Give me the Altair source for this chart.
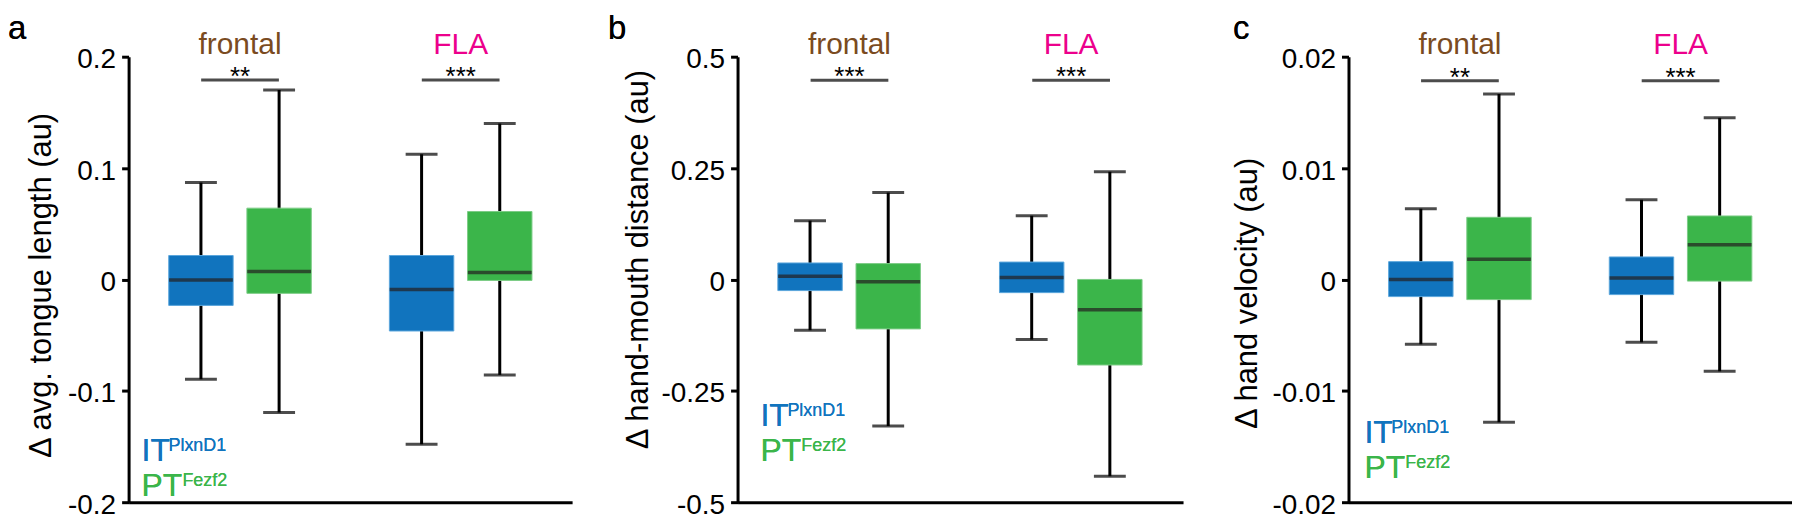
import altair as alt
import pandas as pd

GROUPS = ["frontal", "frontal", "FLA", "FLA"]
TYPES = ["IT", "PT", "IT", "PT"]
GROUP_ORDER = ["frontal", "FLA"]
TYPE_ORDER = ["IT", "PT"]

# Panel a: tongue length
A_HI = [0.087, 0.170, 0.1125, 0.140]
A_Q3 = [0.0215, 0.064, 0.0215, 0.061]
A_MED = [-0.0006, 0.0072, -0.009, 0.0063]
A_Q1 = [-0.0233, -0.0125, -0.0463, -0.0009]
A_LO = [-0.0896, -0.1194, -0.148, -0.0857]
A_SIG = [0.179, 0.179]
A_STARS = ["**", "***"]
A_TICKS = [0.2, 0.1, 0, -0.1, -0.2]

# Panel b: hand-mouth distance
B_HI = [0.132, 0.195, 0.143, 0.2415]
B_Q3 = [0.037, 0.0356, 0.039, 0.0]
B_MED = [0.0074, -0.005, 0.0044, -0.068]
B_Q1 = [-0.025, -0.111, -0.0296, -0.192]
B_LO = [-0.114, -0.329, -0.135, -0.442]
B_SIG = [0.447, 0.447]
B_STARS = ["***", "***"]
B_TICKS = [0.5, 0.25, 0, -0.25, -0.5]

# Panel c: hand velocity
C_HI = [0.00635, 0.01665, 0.00715, 0.01451]
C_Q3 = [0.0016, 0.00558, 0.00202, 0.0057]
C_MED = [0.0, 0.00181, 0.00012, 0.00312]
C_Q1 = [-0.00154, -0.00181, -0.00136, -0.00015]
C_LO = [-0.00582, -0.01282, -0.00564, -0.00825]
C_SIG = [0.01783, 0.01783]
C_STARS = ["**", "***"]
C_TICKS = [0.02, 0.01, 0, -0.01, -0.02]

BLUE = "#1174be"
GREEN = "#3bb54a"
BLUE_EDGE = "#5aa6dc"
GREEN_EDGE = "#7ccc86"
BROWN = "#7a4b1f"
MAGENTA = "#ec008c"
FONT = "Liberation Sans"
H = 447


def panel(hi, q3, med, q1, lo, sig, stars, ticks, title, label, lab_x,
          title_x, title_y, leg_x, leg_y, width):
    df = pd.DataFrame({"group": GROUPS, "type": TYPES, "hi": hi, "q3": q3,
                       "med": med, "q1": q1, "lo": lo})
    sdf = pd.DataFrame({"group": GROUP_ORDER, "sig": sig, "stars": stars})
    yscale = alt.Scale(domain=[ticks[-1], ticks[0]], nice=False, zero=False)
    yaxis = alt.Axis(values=ticks, labelExpr="'' + datum.value", title=title,
                     titleX=title_x, titleY=title_y, titleAngle=270,
                     titleBaseline="alphabetic", grid=False, labelOffset=3)

    def Y(f):
        return alt.Y(f + ":Q", scale=yscale, axis=yaxis)

    X = alt.X("group:N", sort=GROUP_ORDER,
              scale=alt.Scale(paddingInner=0.3, paddingOuter=0.155),
              axis=alt.Axis(labels=False, ticks=False, grid=False), title=None)
    XO = alt.XOffset("type:N", sort=TYPE_ORDER,
                     scale=alt.Scale(paddingInner=0.176, paddingOuter=0.076))

    base = alt.Chart(df)
    whisk = base.mark_rule(color="black", strokeWidth=3).encode(
        x=X, xOffset=XO, y=Y("lo"), y2="hi")
    box = base.mark_bar(strokeWidth=1).encode(
        x=X, xOffset=XO, y=Y("q3"), y2="q1",
        color=alt.Color("type:N", scale=alt.Scale(domain=TYPE_ORDER, range=[BLUE, GREEN]),
                        legend=None),
        stroke=alt.Stroke("type:N", scale=alt.Scale(domain=TYPE_ORDER,
                                                    range=[BLUE_EDGE, GREEN_EDGE]),
                          legend=None))
    medm = base.mark_tick(orient="horizontal", size=64, thickness=3.5, color="#231f20").encode(
        x=X, xOffset=XO, y=Y("med"))
    caphi = base.mark_tick(orient="horizontal", size=32, thickness=3, color="black").encode(
        x=X, xOffset=XO, y=Y("hi"))
    caplo = base.mark_tick(orient="horizontal", size=32, thickness=3, color="black").encode(
        x=X, xOffset=XO, y=Y("lo"))

    sbase = alt.Chart(sdf)
    sigbar = sbase.mark_tick(orient="horizontal", size=78, thickness=3, color="black").encode(
        x=X, y=Y("sig"))
    startxt = sbase.mark_text(fontSize=26, dy=5, baseline="alphabetic", color="black",
                              font=FONT).encode(x=X, y=Y("sig"), text="stars:N")
    gtitle = sbase.mark_text(fontSize=30, baseline="alphabetic", font=FONT).encode(
        x=X, y=alt.value(-3), text="group:N",
        color=alt.Color("group:N", scale=alt.Scale(domain=GROUP_ORDER, range=[BROWN, MAGENTA]),
                        legend=None))

    plabel = sbase.mark_text(fontSize=33, align="left", baseline="alphabetic",
                             color="black", font=FONT).encode(
        x=alt.value(lab_x), y=alt.value(-18), text=alt.value(label))

    def ltxt(txt, dx, dy, size, col):
        return sbase.mark_text(fontSize=size, align="left", baseline="alphabetic",
                               color=col, font=FONT).encode(
            x=alt.value(leg_x + dx), y=alt.value(leg_y + dy), text=alt.value(txt))

    legend = [
        ltxt("IT", 0, 0, 32, BLUE),
        ltxt("PlxnD1", 27, -10, 18, BLUE),
        ltxt("PT", 0, 35, 32, GREEN),
        ltxt("Fezf2", 41, 25, 18, GREEN),
    ]

    return alt.layer(whisk, box, medm, caphi, caplo, sigbar, startxt, gtitle,
                     plabel, *legend).resolve_scale(color="independent").properties(
        width=width, height=H)


pa = panel(A_HI, A_Q3, A_MED, A_Q1, A_LO, A_SIG, A_STARS, A_TICKS,
           "Δ avg. tongue length (au)", "a", -121, -78.5, 229, 13, 406, 445)
pb = panel(B_HI, B_Q3, B_MED, B_Q1, B_LO, B_SIG, B_STARS, B_TICKS,
           "Δ hand-mouth distance (au)", "b", -130, -90, 203, 23, 371, 447)
pc = panel(C_HI, C_Q3, C_MED, C_Q1, C_LO, C_SIG, C_STARS, C_TICKS,
           "Δ hand velocity (au)", "c", -116, -92, 237, 16, 388, 445)

chart = alt.hconcat(pa, pb, pc, spacing=166, bounds="flush").properties(
    padding={"top": 4, "left": 0, "right": 0, "bottom": 0}
).configure(font=FONT).configure_view(stroke=None).configure_axis(
    domainColor="black", domainWidth=3, tickColor="black", tickWidth=3, tickSize=7,
    labelFontSize=28, labelColor="black", labelPadding=6, labelFont=FONT,
    titleFontSize=31, titleFontWeight="normal", titleColor="black", titleFont=FONT,
)

chart.save("out.html", embed_options={"renderer": "svg", "actions": False})
